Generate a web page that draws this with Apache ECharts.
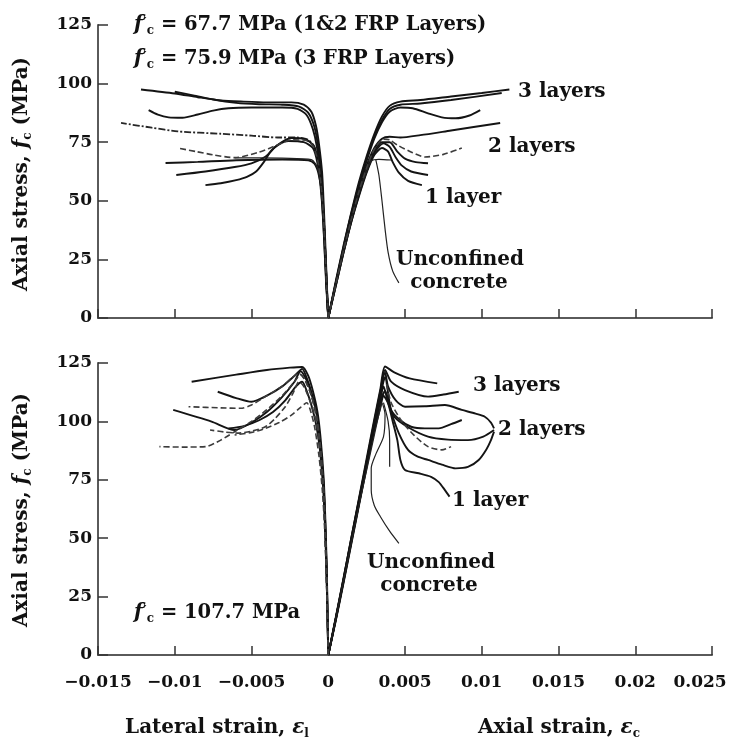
<!DOCTYPE html>
<html><head><meta charset="utf-8">
<script src="https://cdn.jsdelivr.net/npm/echarts@6/dist/echarts.min.js"></script>
<style>html,body{margin:0;padding:0;background:#fff}#c{width:729px;height:745px}</style>
</head><body><div id="c"></div>
<script>
// ---------- tick values / labels ----------
const xTickValues = [-0.015, -0.01, -0.005, 0, 0.005, 0.01, 0.015, 0.02, 0.025];
const xTickLabels = ['\u22120.015', '\u22120.01', '\u22120.005', '0', '0.005', '0.01', '0.015', '0.02', '0.025'];
const yTickValues = [0, 25, 50, 75, 100, 125];

// ---------- TOP PANEL: lateral strain (left) ----------
const topLat3a = [[0,0],[-0.0001,16],[-0.0002,33],[-0.0003,49],[-0.0004,62],[-0.0006,74],[-0.0008,82],[-0.0011,88],[-0.0016,91],[-0.0024,92],[-0.004,92],[-0.0055,92.3],[-0.007,92.8],[-0.0085,94.2],[-0.01,95.8],[-0.0122,97.5]];
const topLat3b = [[0,0],[-0.00012,15],[-0.00022,32],[-0.00033,48],[-0.00047,62],[-0.00068,74],[-0.0009,81.5],[-0.0013,87.5],[-0.0019,90.2],[-0.003,91],[-0.0045,91.2],[-0.006,91.8],[-0.0075,93.2],[-0.0088,95],[-0.01,96.5]];
const topLat3c = [[0,0],[-0.00014,15],[-0.00026,32],[-0.00038,47],[-0.00052,61],[-0.00074,73],[-0.001,80.5],[-0.0014,86.5],[-0.002,89.2],[-0.003,89.8],[-0.005,89.8],[-0.0065,89.5],[-0.0075,88.5],[-0.0085,86.8],[-0.0095,85.4],[-0.0104,85.6],[-0.0111,86.8],[-0.0117,88.7]];
const topLat2a = [[0,0],[-0.0001,14],[-0.0002,29],[-0.0003,44],[-0.00045,57],[-0.00065,67],[-0.0009,73],[-0.0013,76],[-0.002,77],[-0.0033,77],[-0.005,77.8],[-0.007,78.6],[-0.0098,79.6],[-0.0115,81.2],[-0.0135,83.2]];
const topLat2b = [[0,0],[-0.00011,14],[-0.00021,29],[-0.00032,44],[-0.00047,57],[-0.00068,67],[-0.001,73.5],[-0.0015,75.8],[-0.0024,76],[-0.0033,73.8],[-0.0045,70.8],[-0.0061,68.4],[-0.0075,69.6],[-0.0086,71],[-0.0098,72.5]];
const topLat1a = [[0,0],[-0.0001,14],[-0.0002,29],[-0.00031,44],[-0.00046,57],[-0.00066,67],[-0.00095,73.5],[-0.0015,76.3],[-0.0024,76.8],[-0.0033,73.8],[-0.0041,68.8],[-0.005,66],[-0.0061,64.4],[-0.008,62.5],[-0.0099,61]];
const topLat1b = [[0,0],[-0.00012,14],[-0.00023,29],[-0.00034,43],[-0.0005,56],[-0.0007,66],[-0.001,72.5],[-0.0016,75],[-0.0026,75.5],[-0.0031,74.5],[-0.0037,71.5],[-0.0042,66.5],[-0.0047,62.5],[-0.0053,60.2],[-0.006,58.8],[-0.007,57.5],[-0.008,56.7]];
const topLat1c = [[0,0],[-0.0001,14],[-0.0002,29],[-0.0003,43],[-0.00045,55],[-0.00065,62],[-0.0009,65.8],[-0.0013,67.3],[-0.003,67.6],[-0.006,67.3],[-0.0085,66.6],[-0.0106,66.1]];
const topLatU  = [[0,0],[-0.0001,15],[-0.0002,30],[-0.0003,44],[-0.00045,56],[-0.0007,64],[-0.001,67.2],[-0.0013,67.8],[-0.003,68.2],[-0.0061,68.3]];

// ---------- TOP PANEL: axial strain (right) ----------
const topAx3a = [[0,0],[0.0005,16],[0.001,31],[0.0015,45],[0.002,58],[0.0025,69],[0.003,78.5],[0.0035,86],[0.004,90.5],[0.0047,92.3],[0.006,93],[0.008,94.5],[0.01,96],[0.0118,97.5]];
const topAx3b = [[0,0],[0.0005,15.5],[0.001,30.5],[0.0015,44.5],[0.002,57],[0.0025,68],[0.003,77.5],[0.0035,84.5],[0.004,89.2],[0.0047,91],[0.006,91.5],[0.008,93],[0.0113,96]];
const topAx3c = [[0,0],[0.0005,15],[0.001,30],[0.0015,44],[0.002,56],[0.0025,67],[0.003,76.5],[0.0035,83.5],[0.004,88],[0.0047,89.8],[0.0055,89.5],[0.0065,87.3],[0.0074,85.6],[0.0083,85.2],[0.0092,86.4],[0.0099,88.7]];
const topAx2a = [[0,0],[0.0005,15],[0.001,29.5],[0.0015,43],[0.002,55],[0.0025,65],[0.003,72.5],[0.0035,76.5],[0.004,77.3],[0.0047,77],[0.006,78],[0.008,80],[0.0112,83.2]];
const topAx2b = [[0,0],[0.0005,14.5],[0.001,29],[0.0015,42],[0.002,54],[0.0025,64],[0.003,72],[0.0036,76.3],[0.004,76],[0.0045,73.8],[0.0055,70.5],[0.0063,68.7],[0.0075,69.8],[0.0087,72.5]];
const topAx1a = [[0,0],[0.0005,14.5],[0.001,28.5],[0.0015,41.5],[0.002,53],[0.0025,63],[0.003,71],[0.0035,75],[0.004,75],[0.0045,71],[0.005,68],[0.0057,66.5],[0.0065,66]];
const topAx1b = [[0,0],[0.0005,14],[0.001,28],[0.0015,41],[0.002,52.5],[0.0025,62.5],[0.003,70.5],[0.0036,74.5],[0.004,73],[0.0044,68.5],[0.0048,65],[0.0054,62.5],[0.0065,61]];
const topAx1c = [[0,0],[0.0005,14],[0.001,28],[0.0015,41],[0.002,52],[0.0025,62],[0.003,69.5],[0.0035,72.5],[0.0039,71],[0.0042,66.5],[0.0046,62],[0.0052,58.5],[0.0061,56.7]];
const topAxU  = [[0,0],[0.0005,15],[0.001,29],[0.0015,42],[0.002,53.5],[0.0025,62.5],[0.0028,67],[0.0033,67.7],[0.0041,67.4]];
const topAxU2 = [[0.0031,67.5],[0.0033,61],[0.0035,50],[0.0037,38],[0.0039,28],[0.0042,20],[0.0046,15]];

// ---------- BOTTOM PANEL: lateral strain (left) ----------
const botLat3a = [[0,0],[-0.00005,20],[-0.0001,38],[-0.0002,60],[-0.0003,76],[-0.0005,93],[-0.0007,104],[-0.001,113],[-0.0013,119.5],[-0.0017,123.3],[-0.0025,123],[-0.004,122],[-0.006,120],[-0.0089,117]];
const botLat3b = [[0,0],[-0.00006,20],[-0.00012,38],[-0.00022,60],[-0.00033,75],[-0.00055,92],[-0.00075,103],[-0.0011,112.5],[-0.0014,118.5],[-0.0017,122.5],[-0.0022,119.5],[-0.003,115],[-0.004,111],[-0.005,108.4],[-0.006,110],[-0.0072,112.7]];
const botLat3c = [[0,0],[-0.00005,19],[-0.00011,37],[-0.00021,59],[-0.00032,74],[-0.00052,91],[-0.00072,102],[-0.00105,111],[-0.0014,117.5],[-0.0018,121.5],[-0.0022,117],[-0.003,110.5],[-0.004,104],[-0.005,99.5],[-0.0061,96.3],[-0.0076,99.9],[-0.0101,104.9]];
const botLat2a = [[0,0],[-0.00006,19],[-0.00012,37],[-0.00023,59],[-0.00034,74],[-0.00055,91],[-0.00078,102],[-0.0011,111],[-0.0015,117.5],[-0.0019,120.5],[-0.0024,118.5],[-0.003,115],[-0.0041,110.6],[-0.005,107],[-0.0057,105.6],[-0.007,105.8],[-0.0091,106.3]];
const botLat2b = [[0,0],[-0.00006,19],[-0.00013,36],[-0.00024,58],[-0.00036,73],[-0.00058,90],[-0.0008,100],[-0.0012,109],[-0.0016,115],[-0.0019,117],[-0.0023,112],[-0.0028,106.3],[-0.0035,101],[-0.0041,97.7],[-0.005,95.8],[-0.0059,95],[-0.0068,95.5],[-0.0077,96.3]];
const botLat2c = [[0,0],[-0.00005,19],[-0.00012,37],[-0.00022,59],[-0.00033,74],[-0.00054,91],[-0.00075,102],[-0.0011,111],[-0.0015,117.5],[-0.0018,120],[-0.0022,117],[-0.003,111],[-0.004,105],[-0.005,100],[-0.006,96],[-0.007,92],[-0.008,89.2],[-0.0095,89],[-0.011,89.2]];
const botLat1a = [[0,0],[-0.00006,19],[-0.00012,37],[-0.00023,58],[-0.00035,73],[-0.00056,89],[-0.0008,99],[-0.0011,107],[-0.0014,113],[-0.0017,117],[-0.0021,115],[-0.0028,109],[-0.0036,104],[-0.0045,100.5],[-0.0055,98],[-0.0065,97]];
const botLatU  = [[0,0],[-0.00006,18],[-0.00013,35],[-0.00025,56],[-0.00038,70],[-0.0006,85],[-0.0009,98],[-0.0012,105.5],[-0.0014,108],[-0.0018,106],[-0.0024,102.7],[-0.0032,99.5],[-0.0041,97],[-0.005,95.3],[-0.0061,94.2]];

// ---------- BOTTOM PANEL: axial strain (right) ----------
const botAx3a = [[0,0],[0.0005,16],[0.001,33],[0.0015,50],[0.002,67],[0.0025,84],[0.003,101],[0.0034,114],[0.0037,123.5],[0.0043,121],[0.0053,118.4],[0.0071,116.3]];
const botAx3b = [[0,0],[0.0005,16.5],[0.001,33],[0.0015,50],[0.002,66.5],[0.0025,83],[0.003,100],[0.0034,113],[0.0037,122],[0.0041,117],[0.005,113.4],[0.0065,110.6],[0.0075,111.5],[0.0085,112.7]];
const botAx2a = [[0,0],[0.0005,16],[0.001,32.5],[0.0015,49.5],[0.002,66],[0.0025,82.5],[0.003,99],[0.0034,112],[0.0037,121],[0.0039,114.9],[0.0044,109],[0.005,106.3],[0.0063,106.5],[0.0076,107],[0.0087,104.9],[0.0096,103.3],[0.0102,102],[0.0106,99.5],[0.0108,97]];
const botAx2b = [[0,0],[0.0005,16],[0.001,32],[0.0015,49],[0.002,65.5],[0.0025,82],[0.003,98.5],[0.0034,111],[0.0037,119],[0.0041,104.9],[0.0047,100.5],[0.0054,97.7],[0.0063,97],[0.0072,97],[0.008,98.8],[0.0087,100.6]];
const botAx2c = [[0,0],[0.0005,15.5],[0.001,32],[0.0015,48.5],[0.002,65],[0.0025,81.5],[0.003,98],[0.0034,110],[0.0036,115],[0.0039,108],[0.0043,102],[0.0052,97.5],[0.0065,93.5],[0.0078,92.2],[0.0091,92],[0.0101,93.5],[0.0108,96.3]];
const botAx2d = [[0.0038,116],[0.0041,108],[0.0048,100],[0.0056,94],[0.0065,89.2],[0.0074,87.8],[0.008,89.2]];
const botAx1a = [[0,0],[0.0005,15.5],[0.001,31.5],[0.0015,48],[0.002,64.5],[0.0025,81],[0.003,97],[0.0034,108.5],[0.0037,113],[0.0041,104],[0.0046,94.9],[0.0052,87.8],[0.0058,85],[0.0065,83.5],[0.0074,81.5],[0.0083,79.9],[0.0091,80.5],[0.0098,83.5],[0.0103,88],[0.0106,92],[0.0108,95.6]];
const botAx1b = [[0,0],[0.0005,15],[0.001,31],[0.0015,47.5],[0.002,64],[0.0025,80.5],[0.003,96],[0.0034,106],[0.0036,111],[0.0039,107.7],[0.0042,100],[0.0045,92],[0.0047,83.5],[0.005,79.2],[0.0059,77.8],[0.0067,76.3],[0.0072,74],[0.0076,70.6],[0.0079,67.8]];
const botAxU  = [[0,0],[0.0005,16],[0.001,32],[0.0015,48],[0.002,64],[0.0025,79],[0.003,94],[0.0033,103],[0.0035,107.7],[0.0037,103],[0.0036,93.5],[0.0031,86],[0.0028,80],[0.0028,70.6],[0.003,64],[0.0034,59.2],[0.004,53],[0.0046,47.8]];
const botAxU2 = [[0.0036,108],[0.0039,100],[0.004,92],[0.004,80.6]];

// ---------- texts ----------
const topNote1 = ' = 67.7 MPa (1&2 FRP Layers)';
const topNote2 = ' = 75.9 MPa (3 FRP Layers)';
const botNote  = ' = 107.7 MPa';
const layerLabels = ['3 layers', '2 layers', '1 layer', 'Unconfined', 'concrete'];
const yTitle = 'Axial stress, ';
const xTitleLeft = 'Lateral strain, ';
const xTitleRight = 'Axial strain, ';

// ---------- styles ----------
const FONT = '"DejaVu Serif", "Liberation Serif", serif';
const STY = {
  solid:   {color: '#141414', width: 1.9, type: 'solid'},
  dash:    {color: '#3c3c3c', width: 1.6, type: [6, 3]},
  dashdot: {color: '#262626', width: 1.8, type: [7, 2, 2, 2]},
  thin:    {color: '#222', width: 1.2, type: 'solid'}
};

const defs = [
  [topLat3a,0,'solid'],[topLat3b,0,'solid'],[topLat3c,0,'solid'],[topLat2a,0,'dashdot'],[topLat2b,0,'dash'],
  [topLat1a,0,'solid'],[topLat1b,0,'solid'],[topLat1c,0,'solid'],[topLatU,0,'thin'],
  [topAx3a,0,'solid'],[topAx3b,0,'solid'],[topAx3c,0,'solid'],[topAx2a,0,'solid'],[topAx2b,0,'dash'],
  [topAx1a,0,'solid'],[topAx1b,0,'solid'],[topAx1c,0,'solid'],[topAxU,0,'thin'],[topAxU2,0,'thin'],
  [botLat3a,1,'solid'],[botLat3b,1,'solid'],[botLat3c,1,'solid'],[botLat2a,1,'dash'],[botLat2b,1,'dash'],
  [botLat2c,1,'dash'],[botLat1a,1,'solid'],[botLatU,1,'dash'],
  [botAx3a,1,'solid'],[botAx3b,1,'solid'],[botAx2a,1,'solid'],[botAx2b,1,'solid'],[botAx2c,1,'solid'],
  [botAx2d,1,'dash'],[botAx1a,1,'solid'],[botAx1b,1,'solid'],[botAxU,1,'thin'],[botAxU2,1,'thin']
];

const series = defs.map(([d, g, s]) => ({
  type: 'line', xAxisIndex: g, yAxisIndex: g, data: d,
  showSymbol: false, symbol: 'none', smooth: 0.25, silent: true,
  lineStyle: Object.assign({}, STY[s]), z: s === 'dash' ? 3 : 2
}));

function xFmt(v) {
  let best = 0;
  for (let i = 1; i < xTickValues.length; i++)
    if (Math.abs(xTickValues[i] - v) < Math.abs(xTickValues[best] - v)) best = i;
  return best === xTickValues.length - 1 ? '{last|' + xTickLabels[best] + '}' : xTickLabels[best];
}

const axisLineStyle = {color: '#5a5a5a', width: 2};
const tickStyle = {color: '#333', width: 1.5};
const labelFont = {fontFamily: FONT, fontWeight: 'bold', fontSize: 17, color: '#111'};

function xAx(i, showLabel) {
  return {
    gridIndex: i, type: 'value', min: -0.015, max: 0.025, interval: 0.005,
    axisLine: {onZero: false, lineStyle: axisLineStyle},
    axisTick: {inside: true, length: 9, lineStyle: tickStyle},
    axisLabel: Object.assign({show: showLabel, margin: 19, formatter: xFmt, hideOverlap: false,
      rich: {last: {fontFamily: FONT, fontWeight: 'bold', fontSize: 17, color: '#111', padding: [0, 24, 0, 0]}}}, labelFont),
    splitLine: {show: false}
  };
}
function yAx(i) {
  return {
    gridIndex: i, type: 'value', min: 0, max: 125, interval: 25,
    axisLine: {show: true, onZero: false, lineStyle: axisLineStyle},
    axisTick: {show: true, inside: true, length: 10, lineStyle: tickStyle},
    axisLabel: Object.assign({margin: 6, formatter: v => yTickValues.indexOf(v) >= 0 ? String(v) : ''}, labelFont),
    splitLine: {show: false}
  };
}

const rich = {
  i: {fontFamily: FONT, fontStyle: 'italic', fontWeight: 'bold', fontSize: 20, lineHeight: 24},
  p: {fontFamily: FONT, fontWeight: 'bold', fontSize: 16, lineHeight: 24},
  s: {fontFamily: FONT, fontWeight: 'bold', fontSize: 12, lineHeight: 12, verticalAlign: 'bottom'},
  n: {fontFamily: FONT, fontWeight: 'bold', fontSize: 20, lineHeight: 24},
  m: {fontFamily: FONT, fontWeight: 'bold', fontSize: 19.5, lineHeight: 24}
};
function fc(rest) { return '{i|f}{p|\u2032}{s|c}{m|' + rest + '}'; }

function T(x, y, text, extra) {
  return Object.assign({
    type: 'text', x: x, y: y, silent: true,
    style: Object.assign({text: text, fill: '#111', fontFamily: FONT, fontWeight: 'bold', fontSize: 20,
      align: 'left', verticalAlign: 'middle', rich: rich}, (extra && extra.style) || {})
  }, extra && extra.rotation !== undefined ? {rotation: extra.rotation} : {});
}

const graphic = [
  T(134, 25, fc(topNote1)),
  T(134, 59, fc(topNote2)),
  T(134, 613, fc(botNote)),
  T(518, 92, layerLabels[0]),
  T(488, 147, layerLabels[1]),
  T(425, 198, layerLabels[2]),
  T(460, 260, layerLabels[3], {style: {align: 'center'}}),
  T(459, 283, layerLabels[4], {style: {align: 'center'}}),
  T(473, 386, layerLabels[0]),
  T(498, 430, layerLabels[1]),
  T(452, 501, layerLabels[2]),
  T(431, 563, layerLabels[3], {style: {align: 'center'}}),
  T(429, 586, layerLabels[4], {style: {align: 'center'}}),
  T(22, 174, '{n|' + yTitle + '}{i|f}{s|c}{n| (MPa)}', {rotation: Math.PI / 2, style: {align: 'center'}}),
  T(22, 510, '{n|' + yTitle + '}{i|f}{s|c}{n| (MPa)}', {rotation: Math.PI / 2, style: {align: 'center'}}),
  T(217, 728, '{n|' + xTitleLeft + '}{i|\u03b5}{s|l}', {style: {align: 'center'}}),
  T(559, 728, '{n|' + xTitleRight + '}{i|\u03b5}{s|c}', {style: {align: 'center'}})
];

const chart = echarts.init(document.getElementById('c'), null, {renderer: 'canvas'});
chart.setOption({
  animation: false,
  backgroundColor: '#fff',
  grid: [
    {left: 98, right: 17, top: 25, height: 293, containLabel: false, outerBoundsMode: 'none'},
    {left: 98, right: 17, top: 363, height: 292, containLabel: false, outerBoundsMode: 'none'}
  ],
  xAxis: [xAx(0, false), xAx(1, true)],
  yAxis: [yAx(0), yAx(1)],
  series: series,
  graphic: graphic
});
</script></body></html>
